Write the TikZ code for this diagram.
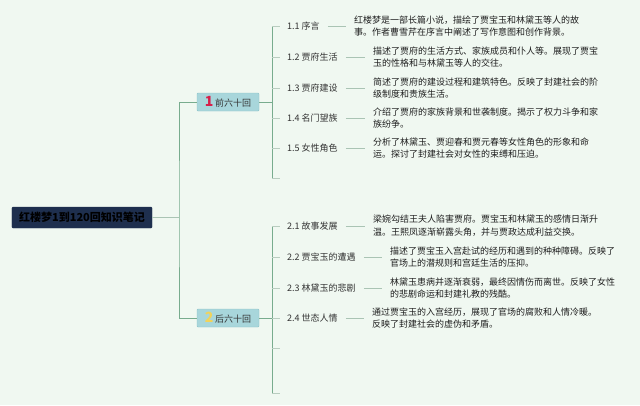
\documentclass[tikz,border=0pt]{standalone}
\usepackage{fontspec}
\newfontfamily\cjk{Noto Sans CJK SC}
\definecolor{bgmint}{RGB}{240,248,241}
\definecolor{rootnavy}{RGB}{30,47,78}
\definecolor{tealbox}{RGB}{168,214,219}
\definecolor{tealline}{RGB}{140,195,200}
\definecolor{trunkgreen}{RGB}{120,172,142}
\definecolor{tickgray}{RGB}{185,205,192}
\definecolor{linkgray}{RGB}{170,196,180}
\definecolor{numred}{RGB}{214,32,74}
\definecolor{numyellow}{RGB}{242,211,90}
\begin{document}
\begin{tikzpicture}[x=1bp, y=-1bp,
    root/.style={fill=rootnavy, draw=rootnavy, rounded corners=1bp, minimum width=140bp, minimum height=21bp, inner sep=0pt, font=\cjk\bfseries\fontsize{11bp}{12bp}\selectfont, text=black},
    group/.style={fill=tealbox, draw=tealline, rounded corners=1bp, minimum width=62bp, minimum height=18bp, inner sep=0pt, font=\cjk\fontsize{9bp}{10bp}\selectfont, text=black!80},
    item/.style={anchor=west, inner sep=2bp, font=\cjk\fontsize{9bp}{11bp}\selectfont, text=black!80},
    desc/.style={anchor=west, align=left, inner sep=2bp, font=\cjk\fontsize{9bp}{12.8bp}\selectfont, text=black!88},
    trunk/.style={draw=trunkgreen, line width=0.8bp},
    tick/.style={draw=tickgray, line width=0.8bp, shorten >=5bp},
    link/.style={draw=linkgray, line width=0.6bp, shorten <=6bp, shorten >=6bp}]
    % the background
    \fill[bgmint] (0,0) rectangle (640,405);
    \useasboundingbox (0,0) rectangle (640,405);
    % the root and the two halves
    \node[root] (root) at (82,217.5) {红楼梦1到120回知识笔记};
    \node[group] (g1) at (228,102) {{\fontsize{14bp}{14bp}\selectfont\bfseries\color{numred}1}\,前六十回};
    \node[group] (g2) at (228,318) {{\fontsize{14bp}{14bp}\selectfont\bfseries\color{numyellow}2}\,后六十回};
    % the branch points (just coordinates to hang the lines on)
    \coordinate (b0) at (179,217.5);
    \coordinate (b1) at (272,102);
    \coordinate (b2) at (272,318);
    \coordinate (e16) at (285,178);
    \coordinate (e25) at (285,348);
    \coordinate (e26) at (285,393);
    % the chapter labels of the first half
    \node[item] (t11) at (285,26) {1.1 序言};
    \node[item] (t12) at (285,57) {1.2 贾府生活};
    \node[item] (t13) at (285,88) {1.3 贾府建设};
    \node[item] (t14) at (285,118) {1.4 名门望族};
    \node[item] (t15) at (285,148) {1.5 女性角色};
    % the chapter labels of the second half
    \node[item] (t21) at (285,226) {2.1 故事发展};
    \node[item] (t22) at (285,257) {2.2 贾宝玉的遭遇};
    \node[item] (t23) at (285,288) {2.3 林黛玉的悲剧};
    \node[item] (t24) at (285,318) {2.4 世态人情};
    % the notes
    \node[desc] (d11) at (352,26) {红楼梦是一部长篇小说，描绘了贾宝玉和林黛玉等人的故\\事。作者曹雪芹在序言中阐述了写作意图和创作背景。};
    \node[desc] (d12) at (371,57) {描述了贾府的生活方式、家族成员和仆人等。展现了贾宝\\玉的性格和与林黛玉等人的交往。};
    \node[desc] (d13) at (371,88) {简述了贾府的建设过程和建筑特色。反映了封建社会的阶\\级制度和贵族生活。};
    \node[desc] (d14) at (371,118) {介绍了贾府的家族背景和世袭制度。揭示了权力斗争和家\\族纷争。};
    \node[desc] (d15) at (371,148) {分析了林黛玉、贾迎春和贾元春等女性角色的形象和命\\运。探讨了封建社会对女性的束缚和压迫。};
    \node[desc] (d21) at (371,226) {梁婉勾结王夫人陷害贾府。贾宝玉和林黛玉的感情日渐升\\温。王熙凤逐渐崭露头角，并与贾政达成利益交换。};
    \node[desc] (d22) at (388,257) {描述了贾宝玉入宫赴试的经历和遇到的种种障碍。反映了\\官场上的潜规则和宫廷生活的压抑。};
    \node[desc] (d23) at (388,288) {林黛玉患病并逐渐衰弱，最终因情伤而离世。反映了女性\\的悲剧命运和封建礼教的残酷。};
    \node[desc] (d24) at (370,318) {通过贾宝玉的入宫经历，展现了官场的腐败和人情冷暖。\\反映了封建社会的虚伪和矛盾。};
    % draw the main lines
    \draw[trunk, draw=linkgray] (root) -- (b0);
    \draw[trunk] (g1) -| (b0) |- (g2);
    \draw[trunk] (g1) -- (b1);
    \draw[trunk] (g2) -- (b2);
    \draw[trunk] (b1 |- t11) -- (b1 |- e16);
    \draw[trunk] (b2 |- t21) -- (b2 |- e26);
    % the ticks
    \draw[tick] (b1 |- t11) -- (t11.west);
    \draw[tick] (b1 |- t12) -- (t12.west);
    \draw[tick] (b1 |- t13) -- (t13.west);
    \draw[tick] (b1 |- t14) -- (t14.west);
    \draw[tick] (b1 |- t15) -- (t15.west);
    \draw[tick] (b1 |- e16) -- (e16);
    \draw[tick] (b2 |- t21) -- (t21.west);
    \draw[tick] (b2 |- t22) -- (t22.west);
    \draw[tick] (b2 |- t23) -- (t23.west);
    \draw[tick] (b2 |- t24) -- (t24.west);
    \draw[tick] (b2 |- e25) -- (e25);
    \draw[tick] (b2 |- e26) -- (e26);
    % the links from labels to notes
    \draw[link] (t11) -- (d11);
    \draw[link] (t12) -- (d12);
    \draw[link] (t13) -- (d13);
    \draw[link] (t14) -- (d14);
    \draw[link] (t15) -- (d15);
    \draw[link] (t21) -- (d21);
    \draw[link] (t22) -- (d22);
    \draw[link] (t23) -- (d23);
    \draw[link] (t24) -- (d24);
\end{tikzpicture}
\end{document}
